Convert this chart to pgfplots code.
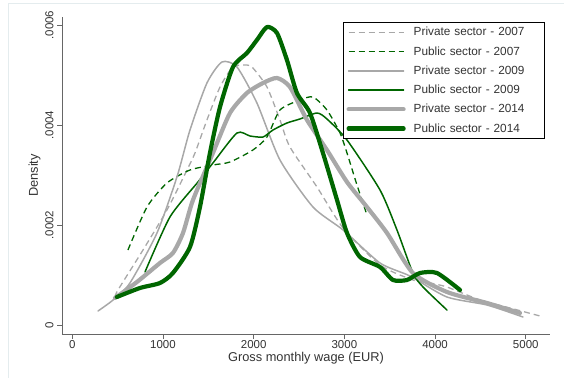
\documentclass[border=0pt]{standalone}
\usepackage{fontspec}
\setmainfont{Liberation Sans}
\usepackage{pgfplots}
\pgfplotsset{compat=1.18}
\definecolor{sgray}{RGB}{168,168,168}
\definecolor{sgreen}{RGB}{0,102,0}
\definecolor{frame}{RGB}{228,236,238}
\begin{document}
\begin{tikzpicture}
\useasboundingbox (-62pt,-44pt) rectangle (502pt,334pt);
\draw[frame, line width=0.8pt] (-54pt,-44pt) -- (-54pt,331pt) -- (502pt,331pt);
\begin{axis}[
  at={(0,0)}, anchor=south west,
  scale only axis, width=488pt, height=317pt,
  xmin=-113, xmax=5267, ymin=-0.000018, ymax=0.000616,
  axis x line*=bottom, axis y line*=left,
  axis line style={draw=black!60, line width=0.8pt, -},
  tick align=outside, major tick length=5pt,
  tick style={draw=black!60, line width=0.8pt},
  xtick={0,1000,2000,3000,4000,5000},
  xticklabels={0,1000,2000,3000,4000,5000},
  ytick={0,0.0002,0.0004,0.0006},
  yticklabels={0,.0002,.0004,.0006},
  scaled y ticks=false, scaled x ticks=false,
  yticklabel style={rotate=90, anchor=south, font=\fontsize{11.5}{13}\selectfont, color=black!80},
  xticklabel style={font=\fontsize{11.5}{13}\selectfont, color=black!80, yshift=2.5pt},
  xlabel={Gross monthly wage (EUR)},
  ylabel={Density},
  xlabel style={font=\fontsize{12.8}{14}\selectfont, color=black!80, at={(axis description cs:0.5,0)}, anchor=north, yshift=-15pt},
  ylabel style={font=\fontsize{12.8}{14}\selectfont, color=black!80, at={(axis description cs:-0.056,0.5)}, rotate=0, anchor=center},
  legend style={at={(1,1)}, anchor=north east, xshift=-5pt, yshift=-5pt,
    draw=black, line width=0.6pt, font=\fontsize{11.8}{13}\selectfont, inner xsep=3pt, inner ysep=3pt,
    row sep=5.2pt, text=black!80,
    /tikz/column 1/.style={column sep=6pt},
    /tikz/column 2/.style={nodes={text width=126pt, align=left}}},
  legend cell align=left,
  legend image code/.code={\draw[#1] (0pt,0pt) -- (55pt,0pt);},
  every axis plot/.append style={line join=round, line cap=round},
]
% Private sector 2007
\addplot[sgray, line width=1.3pt, dash pattern=on 6pt off 4pt, line cap=butt, smooth, tension=0.4] coordinates {
(471,0.000056) (504,0.00007) (780,0.00015) (1044,0.00023) (1265,0.00031) (1353,0.000344)
(1485,0.00041) (1629,0.000476) (1772,0.000516) (1926,0.00052) (1992,0.000514) (2147,0.000476)
(2290,0.00041) (2400,0.000356) (2698,0.000276) (2986,0.000194) (3393,0.00012) (3756,0.00009)
(3944,0.000084) (4131,0.000076) (4495,0.00005) (4826,0.000034) (5157,0.000018)};
\addlegendentry{Private sector - 2007}
% Public sector 2007
\addplot[sgreen, line width=1.3pt, dash pattern=on 6pt off 4pt, line cap=butt, smooth, tension=0.4] coordinates {
(614,0.00015) (824,0.000236) (1044,0.000284) (1298,0.00031) (1551,0.00032) (1739,0.000326)
(1992,0.00035) (2147,0.000376) (2290,0.00043) (2510,0.00045) (2654,0.000456) (2808,0.00043)
(2952,0.000384) (3029,0.000344) (3139,0.00028) (3249,0.00022)};
\addlegendentry{Public sector - 2007}
% Private sector 2009
\addplot[sgray, line width=1.5pt, smooth, tension=0.4] coordinates {
(284,0.000028) (450,0.00005) (636,0.000084) (934,0.000184) (1154,0.000296) (1298,0.00039)
(1485,0.000484) (1650,0.000526) (1816,0.000516) (2036,0.000444) (2290,0.00033) (2654,0.000236)
(2986,0.00019) (3393,0.000124) (3723,0.000098) (4131,0.000056) (4572,0.00004) (4969,0.000016)};
\addlegendentry{Private sector - 2009}
% Public sector 2009
\addplot[sgreen, line width=1.5pt, smooth, tension=0.4] coordinates {
(802,0.000106) (1077,0.000216) (1386,0.000286) (1551,0.000324) (1816,0.000384) (1960,0.000378) (2103,0.000376)
(2213,0.00039) (2367,0.000404) (2510,0.000412) (2698,0.000424) (2808,0.000412) (3029,0.00037)
(3393,0.00027) (3580,0.00019) (3756,0.000104) (3867,0.000076) (4131,0.00003)};
\addlegendentry{Public sector - 2009}
% Private sector 2014
\addplot[sgray, line width=4.2pt, smooth, tension=0.4] coordinates {
(471,0.000054) (713,0.000086) (967,0.000124) (1110,0.000144) (1221,0.000184) (1331,0.00025)
(1551,0.000344) (1739,0.000424) (1926,0.000464) (2103,0.000484) (2257,0.000494) (2400,0.000476)
(2588,0.00041) (2808,0.00035) (3029,0.000286) (3249,0.000236) (3470,0.000184) (3756,0.000104)
(4131,0.000066) (4572,0.000044) (4936,0.000024)};
\addlegendentry{Private sector - 2014}
% Public sector 2014
\addplot[sgreen, line width=4.2pt, smooth, tension=0.4] coordinates {
(492,0.000056) (746,0.000074) (967,0.000084) (1110,0.000104) (1298,0.000156) (1408,0.000236)
(1518,0.000344) (1629,0.000436) (1772,0.000516) (1926,0.000544) (2036,0.00057) (2147,0.000596)
(2257,0.000584) (2367,0.00053) (2477,0.000464) (2621,0.000424) (2764,0.000344) (2919,0.00025)
(3029,0.000184) (3172,0.000136) (3393,0.000116) (3536,0.00009) (3690,0.00009) (3834,0.000104)
(4021,0.000104) (4275,0.00007)};
\addlegendentry{Public sector - 2014}
\end{axis}
\end{tikzpicture}
\end{document}
